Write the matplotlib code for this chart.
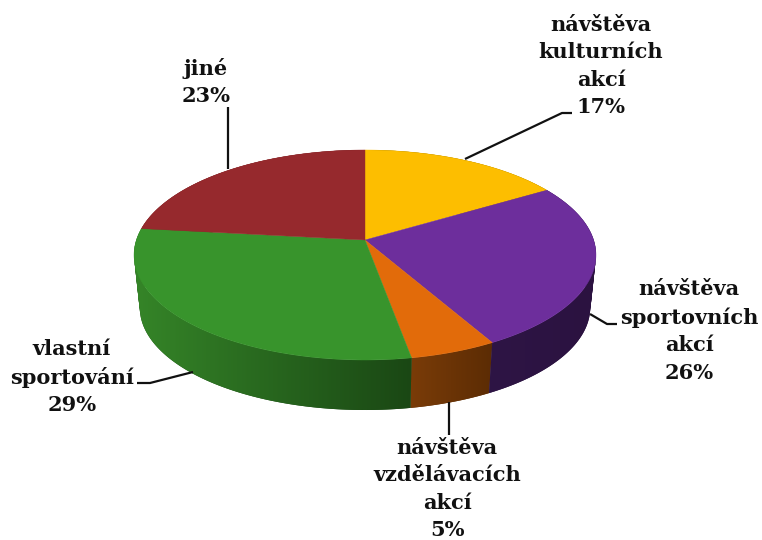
import matplotlib
matplotlib.use('Agg')
import matplotlib.pyplot as plt
from matplotlib.patches import PathPatch
from matplotlib.path import Path
import numpy as np

categories = ['návštěva\nkulturních\nakcí', 'návštěva\nsportovních\nakcí', 'návštěva\nvzdělávacích\nakcí', 'vlastní\nsportování', 'jiné']
shares = [16.3, 25.6, 5.3, 29.6, 23.2]
labels = ['17%', '26%', '5%', '29%', '23%']
colors = ['#fdbe00', '#6d2e9c', '#e26b0a', '#38942c', '#96292d']
wall_left = ['#8a6a00', '#2e1545', '#7a3c08', '#358528', '#6e1f20']
wall_right = ['#8a6a00', '#2b1240', '#5c2c04', '#1a4714', '#6e1f20']

label_pos = [(601, 66), (689, 331), (447, 489), (72, 377), (206, 82)]
leaders = [
    [(465, 159), (562, 113), (572, 113)],
    [(590, 314), (607, 324), (617, 324)],
    [(449, 402), (449, 435)],
    [(193, 372), (150, 383), (137, 383)],
    [(228, 169), (228, 107)],
]

fig, ax = plt.subplots(figsize=(7.62, 5.4), dpi=100)
ax.set_position([0, 0, 1, 1])
ax.axis('off')


# circle -> perspective disc, angle clockwise from 12 o'clock
def project(a, scale=1.0, cy=240):
    u = np.sin(a)
    v = np.cos(a)
    d = 1 + v / 7
    return 365 + scale * 228.6 * u / d, cy - scale * 102.86 * v / d


edges = np.radians(np.cumsum([0] + shares) / sum(shares) * 360)

# side wall: a horizontal gradient clipped to the area each slice sweeps
order = sorted(range(len(shares)), key=lambda k: np.cos((edges[k] + edges[k + 1]) / 2))
for i in order:
    ts = np.linspace(edges[i], edges[i + 1], 120)
    xt, yt = project(ts)
    xb, yb = project(ts, scale=0.975, cy=293)
    verts, codes = [], []
    for j in range(len(ts) - 1):
        q = [(xt[j], yt[j]), (xt[j + 1], yt[j + 1]), (xb[j + 1], yb[j + 1]), (xb[j], yb[j])]
        qx, qy = zip(*q)
        area = np.dot(qx, np.roll(qy, -1)) - np.dot(qy, np.roll(qx, -1))
        if area < 0:
            q = q[::-1]
        verts += q + [q[0]]
        codes += [Path.MOVETO, Path.LINETO, Path.LINETO, Path.LINETO, Path.CLOSEPOLY]
    patch = PathPatch(Path(verts, codes), fc=wall_right[i], ec='none', zorder=2)
    ax.add_patch(patch)
    c0 = np.array(matplotlib.colors.to_rgb(wall_left[i]))
    c1 = np.array(matplotlib.colors.to_rgb(wall_right[i]))
    grad = np.linspace(0, 1, 256)[None, :, None] * (c1 - c0) + c0
    im = ax.imshow(grad, extent=(min(xt.min(), xb.min()), max(xt.max(), xb.max()), 540, 0),
                   aspect='auto', zorder=2, interpolation='bilinear')
    im.set_clip_path(patch)

# top face
for i in range(len(shares)):
    ts = np.linspace(edges[i], edges[i + 1], 120)
    xs, ys = project(ts)
    ax.fill(np.r_[365, xs], np.r_[240, ys], color=colors[i], lw=0.3, zorder=3)

for pts in leaders:
    xs, ys = zip(*pts)
    ax.plot(xs, ys, color='#111111', lw=1.6, zorder=4, solid_capstyle='butt')

for cat, lab, (x, y) in zip(categories, labels, label_pos):
    ax.text(x, y, cat + '\n' + lab, ha='center', va='center', family='DejaVu Serif',
            weight='bold', fontsize=15, linespacing=1.47, color='#111111', zorder=5)

ax.set_xlim(0, 762)
ax.set_ylim(540, 0)
fig.savefig('out.png', dpi=100)
